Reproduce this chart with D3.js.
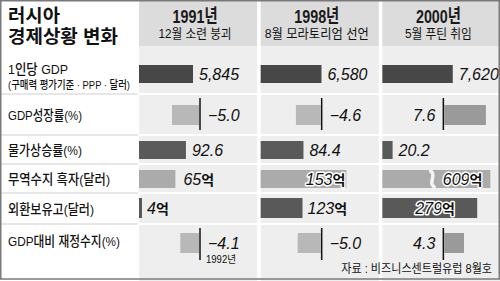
<!DOCTYPE html>
<html><head><meta charset="utf-8">
<script src="https://cdn.jsdelivr.net/npm/d3@7"></script>
<style>
html,body{margin:0;padding:0;background:#fff;}
svg{display:block;}
</style></head>
<body>
<script>
// ---- data ----
const years = ["1991년", "1998년", "2000년"];
const events = ["12월 소련 붕괴", "8월 모라토리엄 선언", "5월 푸틴 취임"];
const indicators = ["1인당 GDP", "GDP성장률(%)", "물가상승률(%)", "무역수지 흑자(달러)", "외환보유고(달러)", "GDP대비 재정수지(%)"];
const indicatorNote = "(구매력 평가기준 · PPP · 달러)";
const gdpPerCapita = [5845, 6580, 7620];
const gdpGrowth = [-5.0, -4.6, 7.6];
const inflation = [92.6, 84.4, 20.2];
const tradeSurplus = [65, 153, 609];   // 억 달러
const reserves = [4, 123, 279];        // 억 달러
const fiscalBalance = [-4.1, -5.0, 4.3];
const fiscalYearNote = ["1992년", "", ""];
const titleLines = ["러시아", "경제상황 변화"];
const source = "자료 : 비즈니스센트럴유럽 8월호";

// ---- layout ----
const W = 500, H = 281;
const KR = "'Noto Sans CJK KR','Noto Sans',sans-serif";
const LKR = "'Liberation Sans','Noto Sans CJK KR',sans-serif";
const NUMKR = "'Liberation Sans Narrow','Liberation Sans','Noto Sans CJK KR',sans-serif";
const NUM = "'Liberation Sans Narrow','Arial Narrow','Liberation Sans',sans-serif";
const headerBottom = 46;
const rowEdges = [46, 94, 135, 164, 193, 224, 279];
const barCenters = [74, 115, 150, 179, 208, 243];
const barHeights = [18, 20, 18, 18, 20, 20];

const svg = d3.select("body").append("svg").attr("width", W).attr("height", H);
svg.append("rect").attr("width", W).attr("height", H).attr("fill", "#fff");

const col = d3.scaleBand().domain(years).range([139, 500.5]).paddingInner(0.029);
const bw = col.bandwidth();
const zeroOff = 61;

// column backgrounds
years.forEach(y => {
  svg.append("rect").attr("x", col(y)).attr("y", 0).attr("width", bw).attr("height", headerBottom).attr("fill", "#dcdcdc");
  svg.append("rect").attr("x", col(y)).attr("y", headerBottom).attr("width", bw).attr("height", H - headerBottom).attr("fill", "#eeeeee");
});
// row separators
rowEdges.slice(1, -1).forEach(e => {
  svg.append("line").attr("x1", 0).attr("x2", 138).attr("y1", e).attr("y2", e).attr("stroke", "#cfcfcf").attr("stroke-width", 1.2);
  svg.append("line").attr("x1", 139).attr("x2", W).attr("y1", e).attr("y2", e).attr("stroke", "#fff").attr("stroke-width", 2);
});

// title
svg.append("text").attr("x", 8).attr("y", 22).attr("font-family", LKR).attr("font-weight", 700).attr("font-size", 18)
  .attr("fill", "#111").attr("textLength", 52).attr("lengthAdjust", "spacingAndGlyphs").text(titleLines[0]);
svg.append("text").attr("x", 8).attr("y", 43).attr("font-family", LKR).attr("font-weight", 700).attr("font-size", 18)
  .attr("fill", "#111").attr("textLength", 110).attr("lengthAdjust", "spacingAndGlyphs").text(titleLines[1]);

// headers
years.forEach((y, i) => {
  const cx = col(y) + bw / 2 - 3;
  svg.append("text").attr("x", cx).attr("y", 22.5).attr("text-anchor", "middle").attr("font-family", NUMKR)
    .attr("font-size", 19).attr("font-weight", 700).attr("fill", "#1a1a1a").attr("textLength", 45).attr("lengthAdjust", "spacingAndGlyphs").text(y);
  const evW = [73, 104, 67][i];
  svg.append("text").attr("x", cx).attr("y", 38).attr("text-anchor", "middle").attr("font-family", NUMKR)
    .attr("font-size", 13).attr("fill", "#111").attr("textLength", evW).attr("lengthAdjust", "spacingAndGlyphs").text(events[i]);
});

// left labels
const labelY = [74, 120, 155, 184, 214, 246];
const labelW = [60, 74, 74, 102, 86, 112];
indicators.forEach((t, i) => {
  svg.append("text").attr("x", 8).attr("y", labelY[i]).attr("font-family", LKR).attr("font-size", 13.5).attr("font-weight", 500)
    .attr("fill", "#111").attr("textLength", labelW[i]).attr("lengthAdjust", "spacingAndGlyphs").text(t);
});
svg.append("text").attr("x", 8).attr("y", 89).attr("font-family", LKR).attr("font-size", 11).attr("font-weight", 500)
  .attr("fill", "#111").attr("textLength", 122).attr("lengthAdjust", "spacingAndGlyphs").text(indicatorNote);

// scales
const sGdp = d3.scaleLinear().domain([0, 10000]).range([0, 92.4]);
const sGrowth = d3.scaleLinear().domain([-10, 10]).range([-56, 56]);
const sInfl = d3.scaleLinear().domain([0, 100]).range([0, 50.7]);
const sTrade = d3.scaleLinear().domain([0, 100]).range([0, 56]);
const tradeMax = 108; // broken bar
const sRes = d3.scaleLinear().domain([0, 100]).range([0, 34]);
const sFisc = d3.scaleLinear().domain([-10, 10]).range([-48, 48]);

const fmtC = d3.format(",");
const fmt1 = d3.format(".1f");

function label(x, y, txt, anchor) {
  svg.append("text").attr("x", x).attr("y", y).attr("font-family", NUM).attr("font-style", "italic")
    .attr("font-size", 16).attr("fill", "#111").attr("text-anchor", anchor || "start").text(txt);
}
function eok(x, y, v, anchor, halo) {
  const t = svg.append("text").attr("x", x).attr("y", y).attr("font-family", NUM).attr("font-style", "italic")
    .attr("font-size", 16).attr("fill", "#111").attr("text-anchor", anchor || "start");
  if (halo) t.attr("stroke", "#fff").attr("stroke-width", 3).attr("stroke-linejoin", "round").attr("paint-order", "stroke");
  t.append("tspan").text(v);
  t.append("tspan").attr("font-family", KR).attr("font-style", "normal").attr("font-size", 14).attr("font-weight", 700).text("억");
}

// Row 1: GDP per capita
gdpPerCapita.forEach((v, i) => {
  const x0 = col(years[i]), w = sGdp(v), yc = barCenters[0], h = barHeights[0];
  svg.append("rect").attr("x", x0).attr("y", yc - h / 2).attr("width", w).attr("height", h).attr("fill", "#474747");
  label(x0 + w + 6, yc + 6, fmtC(v));
});

// diverging rows
function diverging(vals, s, r, notes) {
  const yc = barCenters[r], h = barHeights[r];
  vals.forEach((v, i) => {
    const z = col(years[i]) + zeroOff;
    const x = v < 0 ? z + s(v) : z + 1;
    svg.append("rect").attr("x", x).attr("y", yc - h / 2).attr("width", Math.abs(s(v)) - 1).attr("height", h)
      .attr("fill", v < 0 ? "#b8b8b8" : "#9a9a9a");
    const top = rowEdges[r] + 4;
    const bot = r === 5 ? 260 : rowEdges[r + 1] - 5;
    svg.append("line").attr("x1", z).attr("x2", z).attr("y1", top).attr("y2", bot).attr("stroke", "#111").attr("stroke-width", 1.5);
    if (v < 0) label(z + 8, yc + 6, fmt1(v));
    else label(z - 8, yc + 6, fmt1(v), "end");
    if (notes && notes[i]) {
      svg.append("text").attr("x", z + 6).attr("y", yc + 20).attr("font-family", NUMKR).attr("font-size", 10)
        .attr("fill", "#111").attr("textLength", 30).attr("lengthAdjust", "spacingAndGlyphs").text(notes[i]);
    }
  });
}
diverging(gdpGrowth, sGrowth, 1);

// Row 3: inflation
inflation.forEach((v, i) => {
  const x0 = col(years[i]), w = sInfl(v), yc = barCenters[2], h = barHeights[2];
  svg.append("rect").attr("x", x0).attr("y", yc - h / 2).attr("width", w).attr("height", h).attr("fill", "#5a5a5a");
  label(x0 + w + 6, yc + 6, fmt1(v));
});

// Row 4: trade surplus
tradeSurplus.forEach((v, i) => {
  const x0 = col(years[i]), yc = barCenters[3], h = barHeights[3];
  const broken = sTrade(v) > tradeMax;
  const w = broken ? tradeMax : sTrade(v);
  svg.append("rect").attr("x", x0).attr("y", yc - h / 2).attr("width", w).attr("height", h).attr("fill", "#ababab");
  if (broken) {
    const bx = x0 + 50, t = yc - h / 2, b = yc + h / 2;
    svg.append("path").attr("d", `M${bx - 3},${t} C${bx + 6},${t + 5} ${bx - 6},${b - 5} ${bx + 3},${b}`)
      .attr("fill", "none").attr("stroke", "#f4f4f4").attr("stroke-width", 3.5);
  }
  if (w > 80) eok(x0 + w - (broken ? 8 : 1), yc + 6, v, "end", true);
  else eok(x0 + w + 8, yc + 6, v);
});

// Row 5: reserves
reserves.forEach((v, i) => {
  const x0 = col(years[i]), yc = barCenters[4], h = barHeights[4];
  const w = Math.max(3, sRes(v));
  svg.append("rect").attr("x", x0).attr("y", yc - h / 2).attr("width", w).attr("height", h).attr("fill", "#595959");
  if (w > 80) eok(x0 + 33, yc + 6, v, "start", true);
  else eok(x0 + w + 5, yc + 6, v);
});

// Row 6: fiscal balance
diverging(fiscalBalance, sFisc, 5, fiscalYearNote);

// source (condensed via horizontal scale)
svg.append("g").attr("transform", "translate(492,273) scale(0.9,1)")
  .append("text").attr("x", 0).attr("y", 0).attr("text-anchor", "end").attr("font-family", NUMKR).attr("font-size", 12.3)
  .attr("fill", "#111").text(source);

// frame
svg.append("rect").attr("x", 0.75).attr("y", 0.75).attr("width", W - 1.5).attr("height", 279 - 0.75)
  .attr("fill", "none").attr("stroke", "#7a7a7a").attr("stroke-width", 1.5);
</script>
</body></html>
